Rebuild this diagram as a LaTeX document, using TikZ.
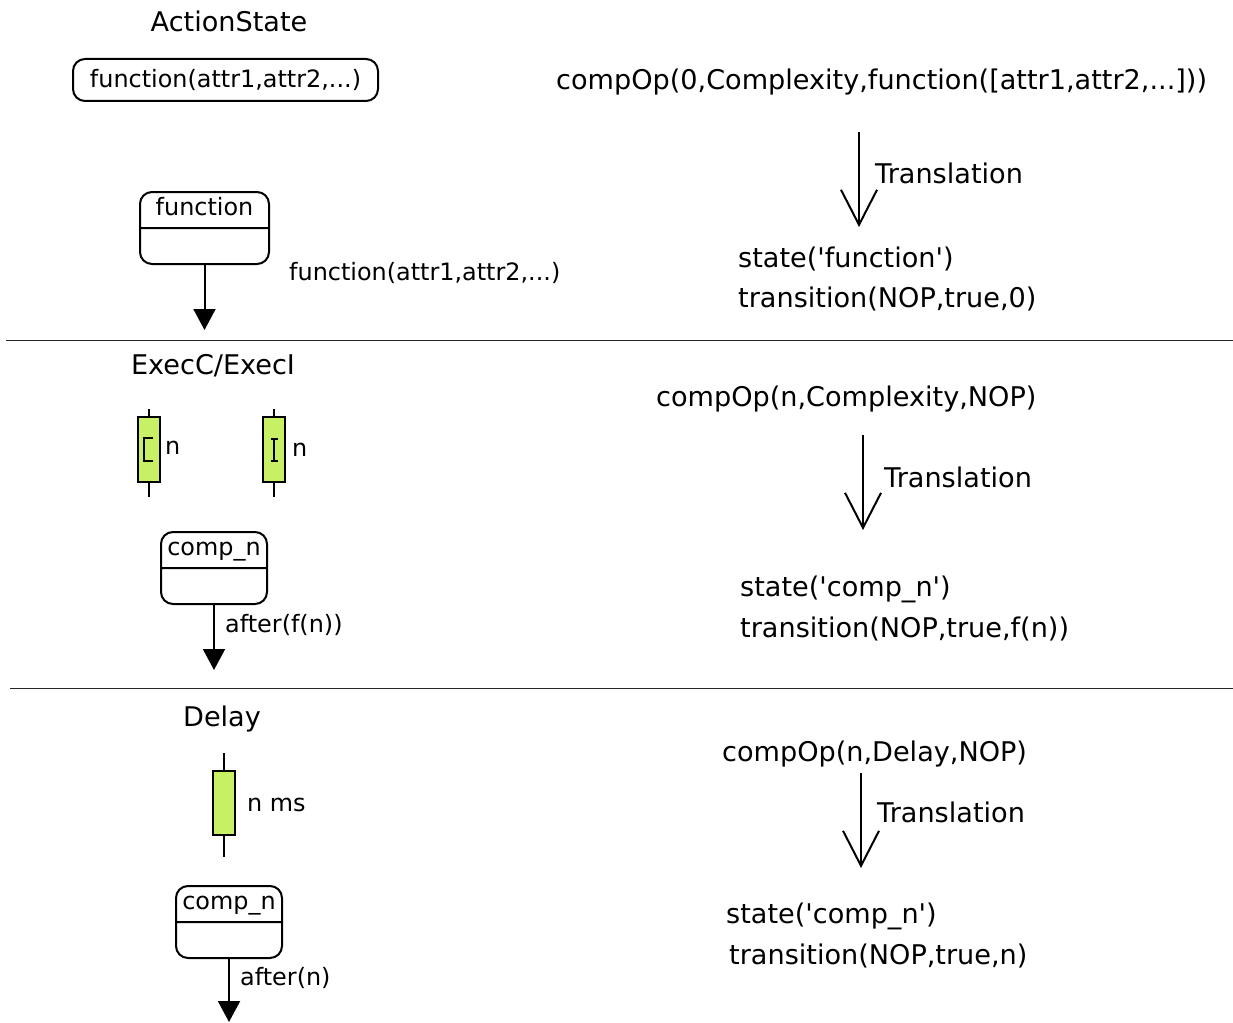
\documentclass[tikz,border=0pt]{standalone}
\usepackage{fontspec}
\newfontfamily\dejavu{DejaVu Sans}
\usetikzlibrary{arrows.meta, positioning, shapes.multipart}
\definecolor{lime}{HTML}{C8F064}

\begin{document}
\begin{tikzpicture}[
    x=1pt, y=-1pt,
    big/.style={font=\dejavu\fontsize{27.1}{32}\selectfont, inner sep=0pt, yshift=-2pt},
    small/.style={font=\dejavu\fontsize{23.9}{28}\selectfont, inner sep=0pt, yshift=-2pt},
    statebox/.style={rectangle split, rectangle split parts=2, draw, line width=2pt, rounded corners=12pt, font=\dejavu\fontsize{23.9}{28}\selectfont, inner xsep=5pt, inner ysep=3pt, rectangle split empty part height=28pt, rectangle split empty part depth=0pt, anchor=north},
    actbox/.style={draw, line width=2pt, rounded corners=12pt, minimum width=305pt, minimum height=42pt, font=\dejavu\fontsize{23.9}{28}\selectfont},
    timer/.style={draw, fill=lime, line width=2pt, minimum width=22pt, minimum height=65pt, inner sep=0pt},
    mark line/.style={line width=2pt},
    flow/.style={line width=2pt, -{Triangle[length=21pt,width=22pt]}},
    trans/.style={line width=2pt, -{Straight Barb[length=35pt,width=36pt]}},
    sep/.style={line width=1pt, black!85},
]
    \useasboundingbox (0,0) rectangle (1233,1022);
    % Separators
    \foreach \y/\xa in {340/6, 688/10} {
        \draw[sep] (\xa,\y) -- (1233,\y);
    }
    % ActionState
    \node[big] (hact) at (229,19) {ActionState};
    \node[actbox] (act) at (225.5,80) {function(attr1,attr2,...)};
    \node[statebox, minimum width=129pt] (sfun) at (204.5,191) {\strut function\nodepart{two}};
    \coordinate (efun) at (204.5,330);
    \draw[flow] (sfun.south) -- (efun);
    \node[small, anchor=west] (lfun) at (289,271) {function(attr1,attr2,...)};
    \node[big, anchor=west] (cop1) at (556,80) {compOp(0,Complexity,function([attr1,attr2,...]))};
    \coordinate (ta1) at (859,132);
    \coordinate (tb1) at (859,227);
    \draw[trans] (ta1) -- (tb1);
    \node[big, anchor=west] (tr1) at (875,171) {Translation};
    \node[big, anchor=west] (st1) at (738,257) {state('function')};
    \node[big, anchor=west] (tn1) at (738,297) {transition(NOP,true,0)};
    % ExecC/ExecI
    \node[big] (hexec) at (213,364) {ExecC/ExecI};
    \node[timer] (tmc) at (149,449.5) {};
    \node[timer] (tmi) at (274,449.5) {};
    \foreach \t in {tmc, tmi} {
        \draw[mark line] (\t.north) -- ++(0,-7);
        \draw[mark line] (\t.south) -- ++(0,14);
    }
    \draw[mark line] ([shift={(4,-12)}]tmc.center) -- ++(-9,0) -- ++(0,23) -- ++(9,0);
    \draw[mark line] ([shift={(0,-11)}]tmi.center) -- ++(0,22);
    \draw[mark line] ([shift={(-3.5,-11)}]tmi.center) -- ++(7,0);
    \draw[mark line] ([shift={(-3.5,11)}]tmi.center) -- ++(7,0);
    \node[small, anchor=west] (lc) at (165,446) {n};
    \node[small, anchor=west] (li) at (292,448) {n};
    \node[statebox, minimum width=106pt] (scomp) at (214,531) {\strut comp\_n\nodepart{two}};
    \coordinate (ecomp) at (214,670);
    \draw[flow] (scomp.south) -- (ecomp);
    \node[small, anchor=west] (lcomp) at (225,623) {after(f(n))};
    \node[big, anchor=west] (cop2) at (656,397) {compOp(n,Complexity,NOP)};
    \coordinate (ta2) at (863,435);
    \coordinate (tb2) at (863,530);
    \draw[trans] (ta2) -- (tb2);
    \node[big, anchor=west] (tr2) at (884,475) {Translation};
    \node[big, anchor=west] (st2) at (740,587) {state('comp\_n')};
    \node[big, anchor=west] (tn2) at (740,627) {transition(NOP,true,f(n))};
    % Delay
    \node[big] (hdel) at (222,717) {Delay};
    \node[timer, minimum height=64pt] (tmd) at (224,802.5) {};
    \draw[mark line] (tmd.north) -- ++(0,-17);
    \draw[mark line] (tmd.south) -- ++(0,21);
    \node[small, anchor=west] (ld) at (247,803) {n ms};
    \node[statebox, minimum width=106pt] (sdel) at (229,885) {\strut comp\_n\nodepart{two}};
    \coordinate (edel) at (229,1022);
    \draw[flow] (sdel.south) -- (edel);
    \node[small, anchor=west] (ldel) at (240,976) {after(n)};
    \node[big, anchor=west] (cop3) at (722,752) {compOp(n,Delay,NOP)};
    \coordinate (ta3) at (861,773);
    \coordinate (tb3) at (861,868);
    \draw[trans] (ta3) -- (tb3);
    \node[big, anchor=west] (tr3) at (877,810) {Translation};
    \node[big, anchor=west] (st3) at (726,914) {state('comp\_n')};
    \node[big, anchor=west] (tn3) at (729,954) {transition(NOP,true,n)};
\end{tikzpicture}
\end{document}
